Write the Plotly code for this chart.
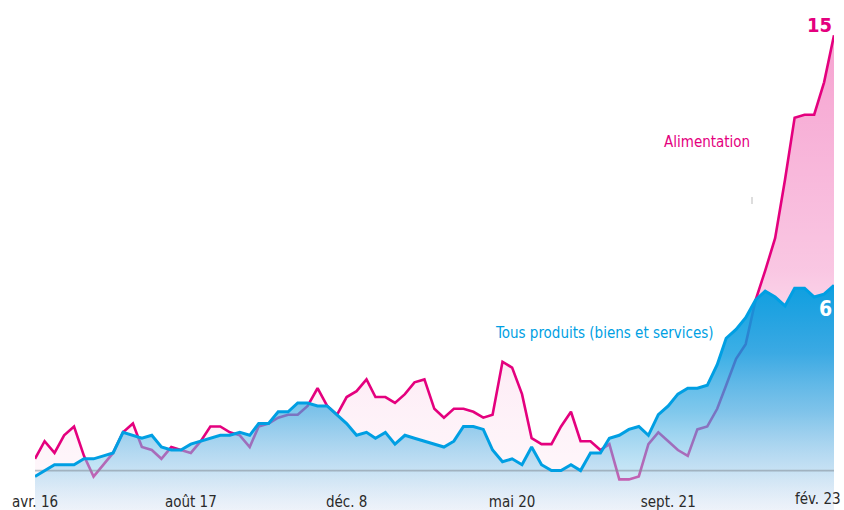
import pandas as pd
import plotly.graph_objects as go

# Monthly year-on-year change (%), April 2016 -> February 2023
months = pd.date_range("2016-04-01", "2023-02-01", freq="MS")

food = [
    0.4, 1.0, 0.6, 1.2, 1.5, 0.5, -0.2, 0.2, 0.6,                  # 2016 (avr-déc)
    1.3, 1.6, 0.8, 0.7, 0.4, 0.8, 0.7, 0.6, 1.0, 1.5, 1.5, 1.3,     # 2017
    1.2, 0.8, 1.5, 1.6, 1.8, 1.9, 1.9, 2.2, 2.8, 2.2, 1.9, 2.5,     # 2018
    2.7, 3.1, 2.5, 2.5, 2.3, 2.6, 3.0, 3.1, 2.1, 1.8, 2.1, 2.1,     # 2019
    2.0, 1.8, 1.9, 3.7, 3.5, 2.6, 1.1, 0.9, 0.9, 1.5, 2.0, 1.0,     # 2020
    1.0, 0.7, 0.9, -0.3, -0.3, -0.2, 0.9, 1.3, 1.0, 0.7, 0.5, 1.4,  # 2021
    1.5, 2.1, 2.9, 3.8, 4.3, 5.8, 6.8, 7.9, 9.9, 12.0, 12.1, 12.1,  # 2022
    13.2, 14.8,                                                     # 2023
]

all_items = [
    -0.2, 0.0, 0.2, 0.2, 0.2, 0.4, 0.4, 0.5, 0.6,                   # 2016
    1.3, 1.2, 1.1, 1.2, 0.8, 0.7, 0.7, 0.9, 1.0, 1.1, 1.2, 1.2,     # 2017
    1.3, 1.2, 1.6, 1.6, 2.0, 2.0, 2.3, 2.3, 2.2, 2.2, 1.9, 1.6,     # 2018
    1.2, 1.3, 1.1, 1.3, 0.9, 1.2, 1.1, 1.0, 0.9, 0.8, 1.0, 1.5,     # 2019
    1.5, 1.4, 0.7, 0.3, 0.4, 0.2, 0.8, 0.2, 0.0, 0.0, 0.2, 0.0,     # 2020
    0.6, 0.6, 1.1, 1.2, 1.4, 1.5, 1.2, 1.9, 2.2, 2.6, 2.8, 2.8,     # 2021
    2.9, 3.6, 4.5, 4.8, 5.2, 5.8, 6.1, 5.9, 5.6, 6.2, 6.2, 5.9,     # 2022
    6.0, 6.3,                                                       # 2023
]

tick_dates = ["2016-04-01", "2017-08-01", "2018-12-01", "2020-05-01", "2021-09-01"]
tick_labels = ["avr. 16", "août 17", "déc. 8", "mai 20", "sept. 21"]
last_tick_date = "2023-02-01"
last_tick_label = "fév. 23"

label_food = "Alimentation"
label_all = "Tous produits (biens et services)"
last_food = "15"
last_all = "6"

PINK = "#e4007e"
BLUE = "#009fe3"
TICK_COLOR = "#2a2a2a"
FONT = "DejaVu Sans Condensed, Liberation Sans Narrow, sans-serif"

Y_MIN, Y_MAX = -1.34, 16.0
floor = [Y_MIN - 0.1] * len(months)

fig = go.Figure()

# floor for the pink area
fig.add_trace(go.Scatter(x=months, y=floor, mode="lines", line=dict(width=0),
                         hoverinfo="skip", showlegend=False))
# food: pink gradient area + line
fig.add_trace(go.Scatter(
    x=months, y=food, mode="lines", fill="tonexty",
    line=dict(color=PINK, width=2.6),
    fillgradient=dict(
        type="vertical", start=Y_MIN - 0.1, stop=15,
        colorscale=[
            [0.0, "rgba(230,0,126,0.02)"],
            [0.085, "rgba(230,0,126,0.035)"],
            [0.27, "rgba(230,0,126,0.065)"],
            [0.5, "rgba(230,0,126,0.22)"],
            [0.88, "rgba(230,0,126,0.33)"],
            [1.0, "rgba(230,0,126,0.36)"],
        ]),
    showlegend=False, hoverinfo="skip"))

# floor for the blue area
fig.add_trace(go.Scatter(x=months, y=floor, mode="lines", line=dict(width=0),
                         hoverinfo="skip", showlegend=False))
# all items: blue gradient area (semi transparent, lets the food line show through)
fig.add_trace(go.Scatter(
    x=months, y=all_items, mode="lines", fill="tonexty",
    line=dict(width=0, color=BLUE),
    fillgradient=dict(
        type="vertical", start=Y_MIN - 0.1, stop=6.4,
        colorscale=[
            [0.0, "rgba(205,228,245,0.3)"],
            [0.179, "rgba(145,205,237,0.5)"],
            [0.436, "rgba(66,173,227,0.67)"],
            [0.692, "rgba(11,155,224,0.8)"],
            [1.0, "rgba(5,158,224,0.97)"],
        ]),
    showlegend=False, hoverinfo="skip"))

# zero line
fig.add_trace(go.Scatter(x=[months[0], months[-1]], y=[0, 0], mode="lines",
                         line=dict(color="rgba(130,140,150,0.55)", width=1.6),
                         showlegend=False, hoverinfo="skip"))

# all items line
fig.add_trace(go.Scatter(x=months, y=all_items, mode="lines",
                         line=dict(color=BLUE, width=3),
                         showlegend=False, hoverinfo="skip"))

fig.update_layout(
    width=844, height=510,
    margin=dict(l=35, r=10, t=0, b=0, autoexpand=False),
    paper_bgcolor="white", plot_bgcolor="white",
    font=dict(family=FONT, size=15, color="#333333"),
    xaxis=dict(
        range=[months[0], months[-1]],
        automargin=False,
        tickvals=tick_dates,
        ticktext=tick_labels,
        ticklabelposition="inside", ticklabeloverflow="allow",
        ticks="", showgrid=False, zeroline=False, showline=False,
        tickfont=dict(family=FONT, size=15, color=TICK_COLOR),
        ticklabelstandoff=-3,
    ),
    yaxis=dict(range=[Y_MIN, Y_MAX], visible=False, showgrid=False, zeroline=False,
               automargin=False),
    annotations=[
        # last x label, right-aligned on its month so it stays inside the picture
        dict(text=last_tick_label, xref="x", yref="paper",
             x=last_tick_date, y=0.0216, xanchor="right", yanchor="middle", xshift=9,
             showarrow=False, font=dict(family=FONT, size=15, color=TICK_COLOR)),
        dict(text=label_food, xref="paper", yref="paper",
             x=(752 - 35) / 799, y=(510 - 142) / 510, xanchor="right", yanchor="middle",
             showarrow=False, font=dict(family=FONT, size=15, color=PINK)),
        dict(text=label_all, xref="paper", yref="paper",
             x=(716 - 35) / 799, y=(510 - 333) / 510, xanchor="right", yanchor="middle",
             showarrow=False, font=dict(family=FONT, size=15, color=BLUE)),
        dict(text="<b>" + last_food + "</b>", xref="paper", yref="paper",
             x=(834 - 35) / 799, y=(510 - 25) / 510, xanchor="right", yanchor="middle",
             showarrow=False, font=dict(family=FONT, size=20, color=PINK)),
        dict(text="<b>" + last_all + "</b>", xref="paper", yref="paper",
             x=(834 - 35) / 799, y=(510 - 309) / 510, xanchor="right", yanchor="middle",
             showarrow=False, font=dict(family=FONT, size=21, color="white")),
    ],
    shapes=[
        dict(type="line", xref="paper", yref="paper",
             x0=(752 - 35) / 799, x1=(752 - 35) / 799,
             y0=(510 - 204) / 510, y1=(510 - 197) / 510,
             line=dict(color="#bbbbbb", width=1)),
    ],
)

fig.write_html("out.html", config={"displayModeBar": False},
               post_script="document.body.style.margin='0';")
